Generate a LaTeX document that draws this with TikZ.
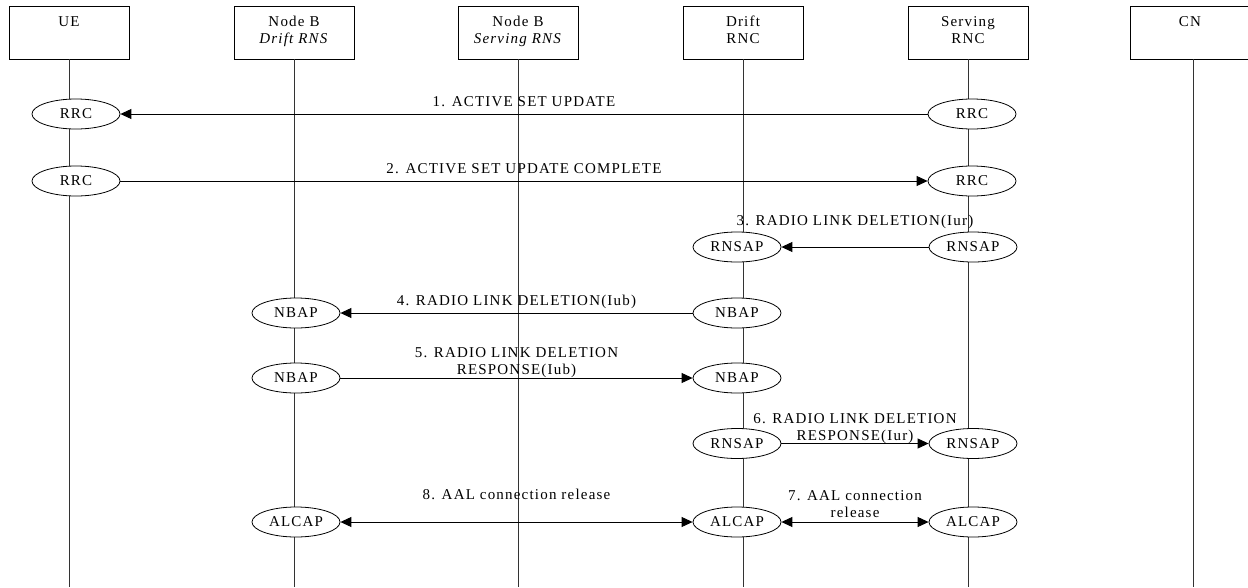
\documentclass[tikz,border=0pt]{standalone}
\usepackage{fontspec}
\setmainfont{Liberation Serif}[LetterSpace=8]
\usetikzlibrary{arrows.meta,shapes.geometric}
\begin{document}
\begin{tikzpicture}[x=1pt,y=-1pt,
  every node/.style={font=\fontsize{15}{17}\selectfont},
  actor/.style={draw, line width=0.8pt, minimum width=120pt, minimum height=53pt,
    inner sep=0pt, align=center, text height=25pt, text depth=4pt},
  life/.style={line width=1pt, draw=black!80},
  proto/.style={ellipse, draw, fill=white, line width=0.8pt, minimum width=88pt,
    minimum height=30pt, inner sep=0pt},
  tip/.tip={Triangle[length=11pt,width=10pt]},
  msg/.style={line width=0.9pt, -tip},
  dmsg/.style={line width=0.9pt, tip-tip},
  lbl/.style={anchor=south, inner sep=0pt, text depth=0pt, align=center},
]
\useasboundingbox (0,0) rectangle (1248,587);
\coordinate (floor) at (0,587);

% entities (two text rows each; the second may stay empty)
\node[actor] (ue)   at (69,32.5)   {UE\\\strut};
\node[actor] (nbd)  at (294,32.5)  {Node B\\\textit{Drift RNS}};
\node[actor] (nbs)  at (518,32.5)  {Node B\\\textit{Serving RNS}};
\node[actor] (drnc) at (743,32.5)  {Drift\\RNC};
\node[actor] (srnc) at (968,32.5)  {Serving\\RNC};
\node[actor] (cn)   at (1190,32.5) {CN\\\strut};

% lifelines
\foreach \n in {ue,nbd,nbs,drnc,srnc}
  \draw[life] (\n.south) -- (\n.south |- floor);
\draw[life] ([xshift=3pt]cn.south) -- ([xshift=3pt]cn.south |- floor);

% protocol entities
\node[proto] (rrcU1)  at (76,114)    {RRC};
\node[proto] (rrcS1)  at (972,114)   {RRC};
\node[proto] (rrcU2)  at (76,181)    {RRC};
\node[proto] (rrcS2)  at (972,181)   {RRC};
\node[proto] (rnsD3)  at (737,247)   {RNSAP};
\node[proto] (rnsS3)  at (973,247)   {RNSAP};
\node[proto] (nbapB4) at (296,313)   {NBAP};
\node[proto] (nbapD4) at (737,313)   {NBAP};
\node[proto] (nbapB5) at (296,378)   {NBAP};
\node[proto] (nbapD5) at (737,378)   {NBAP};
\node[proto] (rnsD6)  at (737,443.5) {RNSAP};
\node[proto] (rnsS6)  at (973,443.5) {RNSAP};
\node[proto] (alB)    at (296,522)   {ALCAP};
\node[proto] (alD)    at (737,522)   {ALCAP};
\node[proto] (alS)    at (973,522)   {ALCAP};

% messages
\draw[msg] (rrcS1) -- node[lbl, midway, yshift=7pt] {1. ACTIVE SET UPDATE} (rrcU1);
\draw[msg] (rrcU2) -- node[lbl, midway, yshift=7pt] {2. ACTIVE SET UPDATE COMPLETE} (rrcS2);
\draw[msg] (rnsS3) -- node[lbl, midway, yshift=21pt] {3. RADIO LINK DELETION(Iur)} (rnsD3);
\draw[msg] (nbapD4) -- node[lbl, midway, yshift=7pt] {4. RADIO LINK DELETION(Iub)} (nbapB4);
\draw[msg] (nbapB5) -- node[lbl, midway, yshift=3pt] {5. RADIO LINK DELETION\\RESPONSE(Iub)} (nbapD5);
\draw[msg] (rnsD6) -- node[lbl, midway, yshift=3pt] {6. RADIO LINK DELETION\\RESPONSE(Iur)} (rnsS6);
\draw[dmsg] (alD) -- node[lbl, midway, yshift=4pt] {7. AAL connection\\release} (alS);
\draw[dmsg] (alB) -- node[lbl, midway, yshift=22pt] {8. AAL connection release} (alD);
\end{tikzpicture}
\end{document}
